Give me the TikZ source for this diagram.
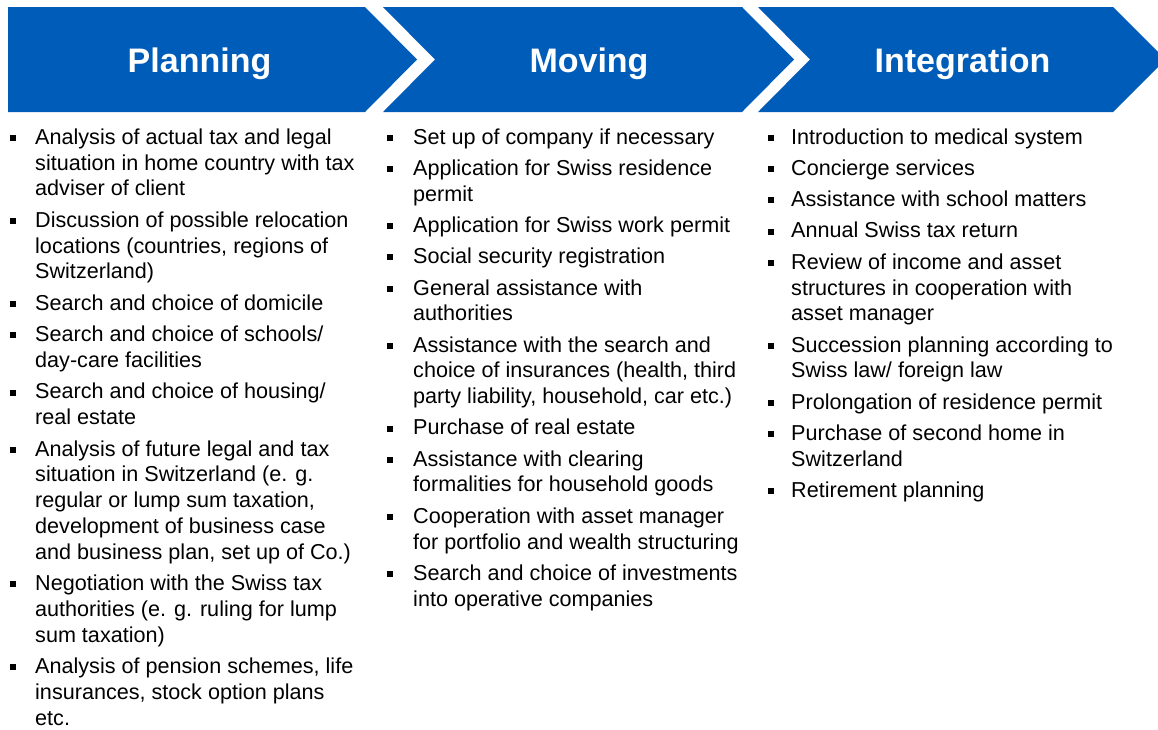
\documentclass[tikz,border=0pt]{standalone}
\usepackage{fontspec}
\setmainfont{Liberation Sans}
\definecolor{chevblue}{HTML}{005CB9}
\begin{document}
\begin{tikzpicture}[x=1pt,y=-1pt,
  chev/.style={fill=chevblue,draw=none},
  title/.style={text=white,font=\fontsize{34}{40}\selectfont\bfseries,anchor=base,inner sep=0},
  item/.style={anchor=north west,inner sep=0,align=left,text=black,
    font=\fontsize{21.6}{25.8}\selectfont},
  bul/.style={fill=black,draw=none,rectangle,minimum size=6pt,inner sep=0}]
\useasboundingbox (0,0) rectangle (1158,729);
\fill[white] (0,0) rectangle (1158,729);
% chevrons
\fill[chev] (8,7) -- (365,7) -- (417,59.5) -- (365,112) -- (8,112) -- cycle;
\fill[chev] (383,7) -- (742,7) -- (794,59.5) -- (742,112) -- (383,112) -- (435,59.5) -- cycle;
\fill[chev] (758,7) -- (1113,7) -- (1158,52) -- (1158,67) -- (1113,112) -- (758,112) -- (810,59.5) -- cycle;
\node[title] (t1) at (199.5,72) {Planning};
\node[title] (t2) at (589,72) {Moving};
\node[title] (t3) at (962.5,72) {Integration};
% column 1
\node[item] (a1) at (35,125.94) {\strut Analysis of actual tax and legal\\situation in home country with tax\\adviser of client\strut};
\node[item] (a2) at ([yshift=-5.2pt]a1.south west) {\strut Discussion of possible relocation\\locations (countries, regions of\\Switzerland)\strut};
\node[item] (a3) at ([yshift=-5.2pt]a2.south west) {\strut Search and choice of domicile\strut};
\node[item] (a4) at ([yshift=-5.2pt]a3.south west) {\strut Search and choice of schools/\\day-care facilities\strut};
\node[item] (a5) at ([yshift=-5.2pt]a4.south west) {\strut Search and choice of housing/\\real estate\strut};
\node[item] (a6) at ([yshift=-5.2pt]a5.south west) {\strut Analysis of future legal and tax\\situation in Switzerland (e. g.\\regular or lump sum taxation,\\development of business case\\and business plan, set up of Co.)\strut};
\node[item] (a7) at ([yshift=-5.2pt]a6.south west) {\strut Negotiation with the Swiss tax\\authorities (e. g. ruling for lump\\sum taxation)\strut};
\node[item] (a8) at ([yshift=-5.2pt]a7.south west) {\strut Analysis of pension schemes, life\\insurances, stock option plans\\etc.};
\foreach \n in {1,...,8} {\node[bul] (ba\n) at ([xshift=-22pt,yshift=-12pt]a\n.north west) {};}
% column 2
\node[item] (m1) at (413,125.94) {\strut Set up of company if necessary\strut};
\node[item] (m2) at ([yshift=-5.05pt]m1.south west) {\strut Application for Swiss residence\\permit\strut};
\node[item] (m3) at ([yshift=-5.05pt]m2.south west) {\strut Application for Swiss work permit\strut};
\node[item] (m4) at ([yshift=-5.05pt]m3.south west) {\strut Social security registration\strut};
\node[item] (m5) at ([yshift=-5.05pt]m4.south west) {\strut General assistance with\\authorities\strut};
\node[item] (m6) at ([yshift=-5.05pt]m5.south west) {\strut Assistance with the search and\\choice of insurances (health, third\\party liability, household, car etc.)\strut};
\node[item] (m7) at ([yshift=-5.05pt]m6.south west) {\strut Purchase of real estate\strut};
\node[item] (m8) at ([yshift=-5.05pt]m7.south west) {\strut Assistance with clearing\\formalities for household goods\strut};
\node[item] (m9) at ([yshift=-5.05pt]m8.south west) {\strut Cooperation with asset manager\\for portfolio and wealth structuring\strut};
\node[item] (m10) at ([yshift=-5.05pt]m9.south west) {\strut Search and choice of investments\\into operative companies\strut};
\foreach \n in {1,...,10} {\node[bul] (bm\n) at ([xshift=-23pt,yshift=-12pt]m\n.north west) {};}
% column 3
\node[item] (i1) at (791,125.94) {\strut Introduction to medical system\strut};
\node[item] (i2) at ([yshift=-5.05pt]i1.south west) {\strut Concierge services\strut};
\node[item] (i3) at ([yshift=-5.05pt]i2.south west) {\strut Assistance with school matters\strut};
\node[item] (i4) at ([yshift=-5.05pt]i3.south west) {\strut Annual Swiss tax return\strut};
\node[item] (i5) at ([yshift=-5.05pt]i4.south west) {\strut Review of income and asset\\structures in cooperation with\\asset manager\strut};
\node[item] (i6) at ([yshift=-5.05pt]i5.south west) {\strut Succession planning according to\\Swiss law/ foreign law\strut};
\node[item] (i7) at ([yshift=-5.05pt]i6.south west) {\strut Prolongation of residence permit\strut};
\node[item] (i8) at ([yshift=-5.05pt]i7.south west) {\strut Purchase of second home in\\Switzerland\strut};
\node[item] (i9) at ([yshift=-5.05pt]i8.south west) {\strut Retirement planning\strut};
\foreach \n in {1,...,9} {\node[bul] (bi\n) at ([xshift=-20pt,yshift=-12pt]i\n.north west) {};}
\end{tikzpicture}
\end{document}
